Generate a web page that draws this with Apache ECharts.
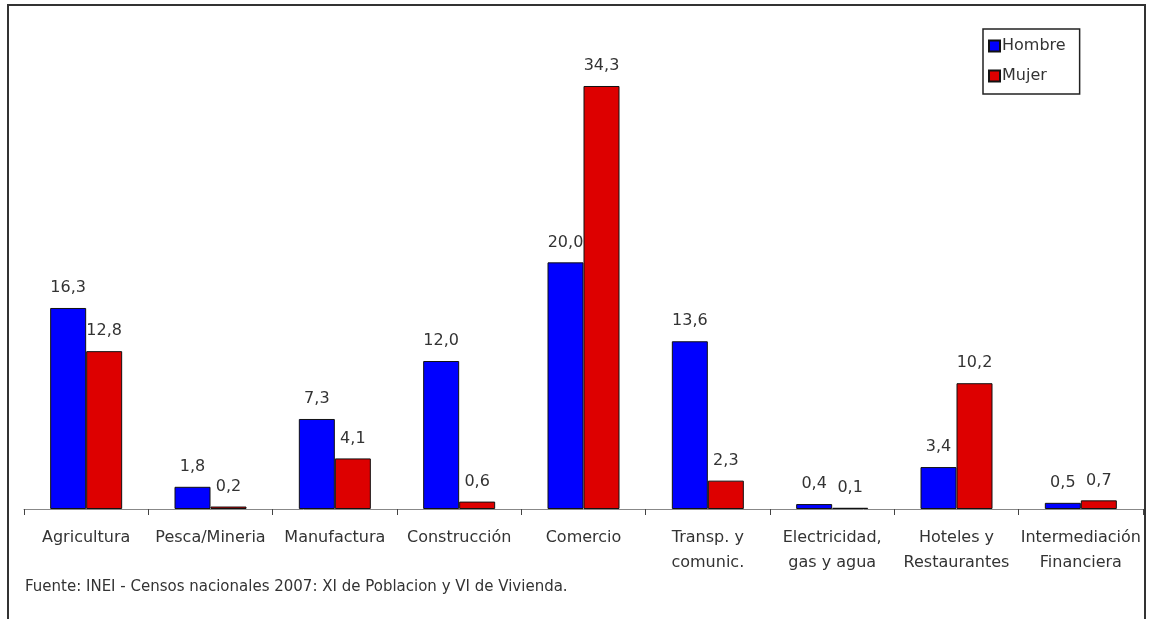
<!DOCTYPE html>
<html>
<head>
<meta charset="utf-8">
<script src="https://cdn.jsdelivr.net/npm/echarts@6/dist/echarts.min.js"></script>
<style>
html,body{margin:0;padding:0;background:#fff;}
#chart{width:1149px;height:619px;}
</style>
</head>
<body>
<div id="chart"></div>
<script>
const categories = ["Agricultura", "Pesca/Mineria", "Manufactura", "Construcción", "Comercio", "Transp. y\ncomunic.", "Electricidad,\ngas y agua", "Hoteles y\nRestaurantes", "Intermediación\nFinanciera"];
const hombre = [16.3, 1.8, 7.3, 12.0, 20.0, 13.6, 0.4, 3.4, 0.5];
const mujer = [12.8, 0.2, 4.1, 0.6, 34.3, 2.3, 0.1, 10.2, 0.7];
const seriesNames = ["Hombre", "Mujer"];
const sourceText = "Fuente: INEI - Censos nacionales 2007: XI de Poblacion y VI de Vivienda.";

const FONT = "'DejaVu Sans', sans-serif";
const chart = echarts.init(document.getElementById('chart'), null, {renderer: 'canvas'});
const fmt = p => p.value.toFixed(1).replace('.', ',');
const labelCfg = {show: true, position: 'top', distance: 12, formatter: fmt, color: '#333', fontSize: 16, fontFamily: FONT};

chart.setOption({
  animation: false,
  backgroundColor: '#fff',
  grid: {left: 24, right: 6, top: 15.7, bottom: 110, containLabel: false},
  legend: {
    data: seriesNames,
    orient: 'vertical',
    left: 983, top: 29,
    borderColor: '#222', borderWidth: 1.5,
    padding: [9, 14, 10, 5],
    itemWidth: 11, itemHeight: 11, itemGap: 14,
    icon: 'rect',
    textStyle: {color: '#333', fontSize: 16, fontFamily: FONT, padding: [0, 0, 0, -3]}
  },
  xAxis: {
    type: 'category',
    data: categories,
    axisLine: {lineStyle: {color: '#888', width: 1}},
    axisTick: {show: true, length: 6, lineStyle: {color: '#444'}},
    axisLabel: {color: '#333', fontSize: 16, fontFamily: FONT, margin: 16, lineHeight: 25, interval: 0}
  },
  yAxis: {type: 'value', min: 0, max: 40, show: false, splitLine: {show: false}},
  series: [
    {name: seriesNames[0], type: 'bar', data: hombre, barWidth: 36, barGap: '0%',
     itemStyle: {color: '#0000FF', borderColor: '#111', borderWidth: 1}, label: labelCfg},
    {name: seriesNames[1], type: 'bar', data: mujer, barWidth: 36, barGap: '0%',
     itemStyle: {color: '#DD0000', borderColor: '#111', borderWidth: 1}, label: labelCfg}
  ],
  graphic: [
    {type: 'rect', shape: {x: 8, y: 5, width: 1137, height: 700}, style: {fill: 'none', stroke: '#333', lineWidth: 2}, silent: true},
    {type: 'text', left: 25, top: 580, style: {text: sourceText, fill: '#333', font: '15px ' + FONT}}
  ]
});
</script>
</body>
</html>
